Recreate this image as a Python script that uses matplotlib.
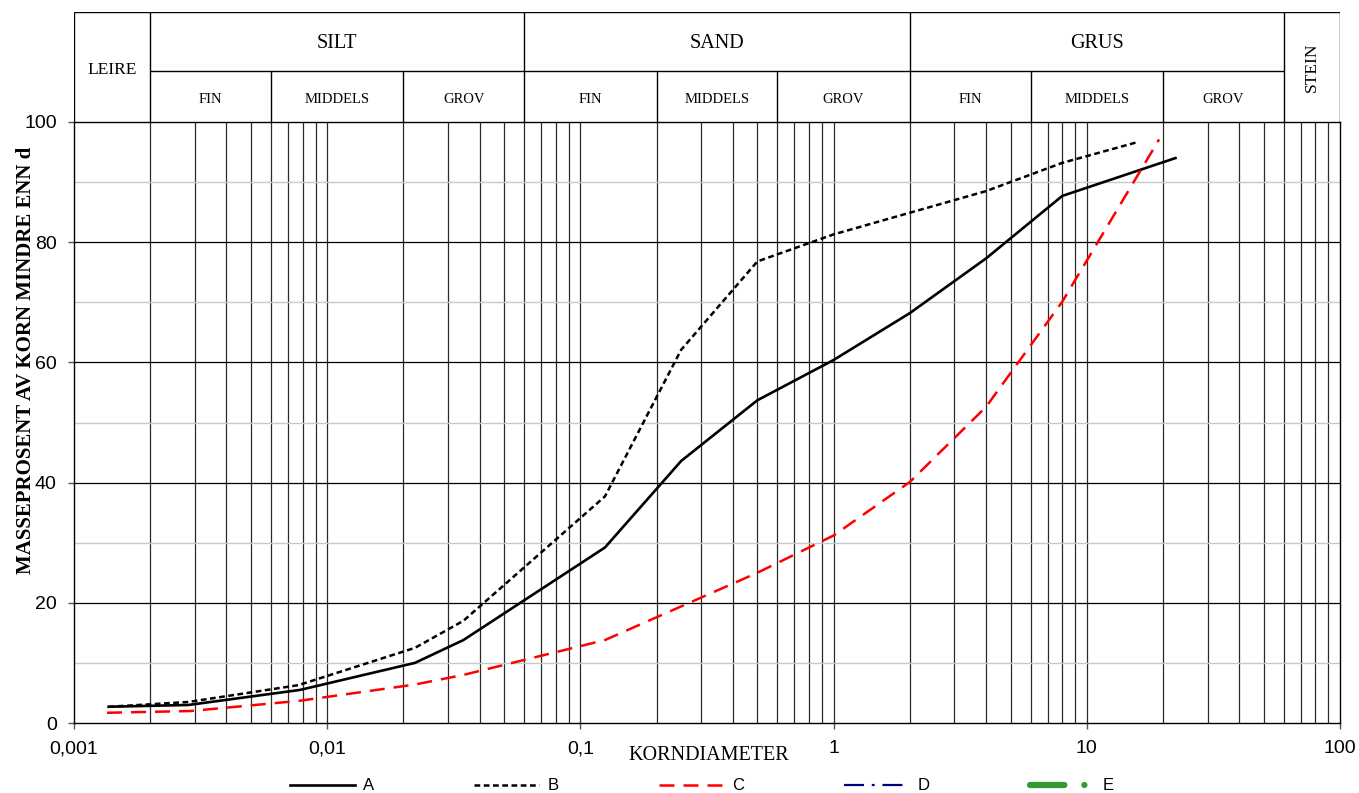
import matplotlib
matplotlib.use("Agg")
import matplotlib.pyplot as plt
from matplotlib.ticker import FixedLocator, FuncFormatter, NullFormatter
import numpy as np

# kornfordeling, lest av figuren (korndiameter i mm, prosent gjennomgang)
x_a = [0.00137, 0.00283, 0.0078, 0.0222, 0.0345, 0.125, 0.25, 0.5, 1, 2, 4, 8, 22.4]
y_a = [2.7, 3.0, 5.5, 10.0, 13.8, 29.2, 43.6, 53.7, 60.4, 68.2, 77.3, 87.7, 94.0]

x_b = [0.00137, 0.00283, 0.0077, 0.0222, 0.0345, 0.125, 0.25, 0.5, 1, 2, 4, 8, 16]
y_b = [2.7, 3.5, 6.3, 12.5, 17.0, 37.7, 62.1, 76.8, 81.3, 84.9, 88.5, 93.2, 96.7]

x_c = [0.00135, 0.0029, 0.0078, 0.0222, 0.0345, 0.125, 0.25, 0.5, 1, 2, 4, 8, 19.3]
y_c = [1.7, 2.0, 3.7, 6.4, 8.0, 13.8, 19.4, 25.0, 31.2, 40.1, 52.6, 70.1, 97.1]

# D og E er tomme serier (bare i tegnforklaringen)
x_d, y_d = [], []
x_e, y_e = [], []

# hovedfraksjoner og underinndeling (grenser i mm)
hoved_navn = ["LEIRE", "SILT", "SAND", "GRUS", "STEIN"]
hoved_grenser = [0.001, 0.002, 0.06, 2, 60, 100]
under_navn = ["FIN", "MIDDELS", "GROV"]
under_grenser = {"SILT": [0.002, 0.006, 0.02, 0.06],
                 "SAND": [0.06, 0.2, 0.6, 2],
                 "GRUS": [2, 6, 20, 60]}

x_ticks = [0.001, 0.01, 0.1, 1, 10, 100]
x_ticklabels = ["0,001", "0,01", "0,1", "1", "10", "100"]
y_ticks = [0, 20, 40, 60, 80, 100]

SERIF = "Liberation Serif"
SANS = "Liberation Sans"

W, H = 1359, 793
fig = plt.figure(figsize=(W / 100, H / 100), dpi=100)

def fx(px):
    return px / W

def fy(py):
    return 1 - py / H

left, right, bottom, top = fx(74), fx(1340), fy(723), fy(122)
ax = fig.add_axes([left, bottom, right - left, top - bottom])
ax.set_xscale("log")
ax.set_xlim(0.001, 100)
ax.set_ylim(0, 100)

# rutenett
minor_x = [m * 10.0 ** e for e in range(-3, 2) for m in range(2, 10)]
for xv in minor_x + x_ticks[1:-1]:
    ax.axvline(xv, color="#2a2a2a", lw=0.9, zorder=1)
for yv in [10, 30, 50, 70, 90]:
    ax.axhline(yv, color="#c8c8c8", lw=1.0, zorder=1)
for yv in [20, 40, 60, 80]:
    ax.axhline(yv, color="black", lw=0.9, zorder=1)

ax.plot(x_a, y_a, color="black", lw=1.9, label="A", zorder=3)
ax.plot(x_b, y_b, color="black", lw=1.8, dashes=(2.3, 1.4), label="B", zorder=3)
ax.plot(x_c, y_c, color="#ff0000", lw=1.8, dashes=(6, 3.6), label="C", zorder=3)
ax.plot(x_d, y_d, color="#000080", lw=1.6, dashes=(9, 3.5, 1.3, 3.5), label="D")
ax.plot(x_e, y_e, color="#339933", lw=4.5, dashes=(5.5, 3.2, 0.01, 3.2),
        dash_capstyle="round", label="E")

ax.xaxis.set_major_locator(FixedLocator(x_ticks))
ax.xaxis.set_major_formatter(FuncFormatter(lambda v, p: x_ticklabels[x_ticks.index(v)] if v in x_ticks else ""))
ax.xaxis.set_minor_formatter(NullFormatter())
ax.tick_params(axis="x", which="minor", length=0)
ax.set_yticks(y_ticks)
ax.tick_params(axis="both", which="major", direction="out", length=4.5, width=1,
               labelsize=14, pad=8, color="#555555")
for lab in ax.get_xticklabels() + ax.get_yticklabels():
    lab.set_fontfamily(SANS)
for sp in ax.spines.values():
    sp.set_color("black")
    sp.set_linewidth(1.0)

# tabellhode over diagrammet
axh = fig.add_axes([left, fy(122), right - left, fy(12) - fy(122)])
axh.set_xscale("log")
axh.set_xlim(0.001, 100)
axh.set_ylim(0, 1)
axh.axis("off")
mid = (122 - 71) / 110.0
lc = dict(color="black", lw=1.0, solid_capstyle="butt")
axh.plot([0.001, 100], [1, 1], **lc)
axh.plot([0.002, 60], [mid, mid], **lc)
for g in hoved_grenser:
    axh.plot([g, g], [0, 1], **lc)

for i, navn in enumerate(hoved_navn):
    a, b = hoved_grenser[i], hoved_grenser[i + 1]
    xc = np.sqrt(a * b)
    if navn in under_grenser:
        axh.text(xc, (1 + mid) / 2 - 0.02, navn, ha="center", va="center",
                 family=SERIF, fontsize=14.5)
        gr = under_grenser[navn]
        for g in gr[1:-1]:
            axh.plot([g, g], [0, mid], **lc)
        for j, un in enumerate(under_navn):
            axh.text(np.sqrt(gr[j] * gr[j + 1]), mid / 2 - 0.025, un, ha="center", va="center",
                     family=SERIF, fontsize=10.5)
    elif navn == "STEIN":
        axh.text(xc, 0.5, navn, ha="center", va="center", rotation=90,
                 family=SERIF, fontsize=12.5)
    else:
        axh.text(xc, 0.47, navn, ha="center", va="center",
                 family=SERIF, fontsize=12.5)

fig.text(fx(26), fy(360), "MASSEPROSENT AV KORN MINDRE ENN d", rotation=90,
         ha="center", va="center", family=SERIF, fontweight="bold", fontsize=15)
fig.text(fx(709), fy(755), "KORNDIAMETER", ha="center", va="center",
         family=SERIF, fontsize=14.5)

fig.legend(loc="center", bbox_to_anchor=(fx(702), fy(786)), ncol=5, frameon=False,
           prop={"family": SANS, "size": 12}, handlelength=3.9, handletextpad=0.5,
           columnspacing=6.0)

fig.savefig("out.png", dpi=100)
